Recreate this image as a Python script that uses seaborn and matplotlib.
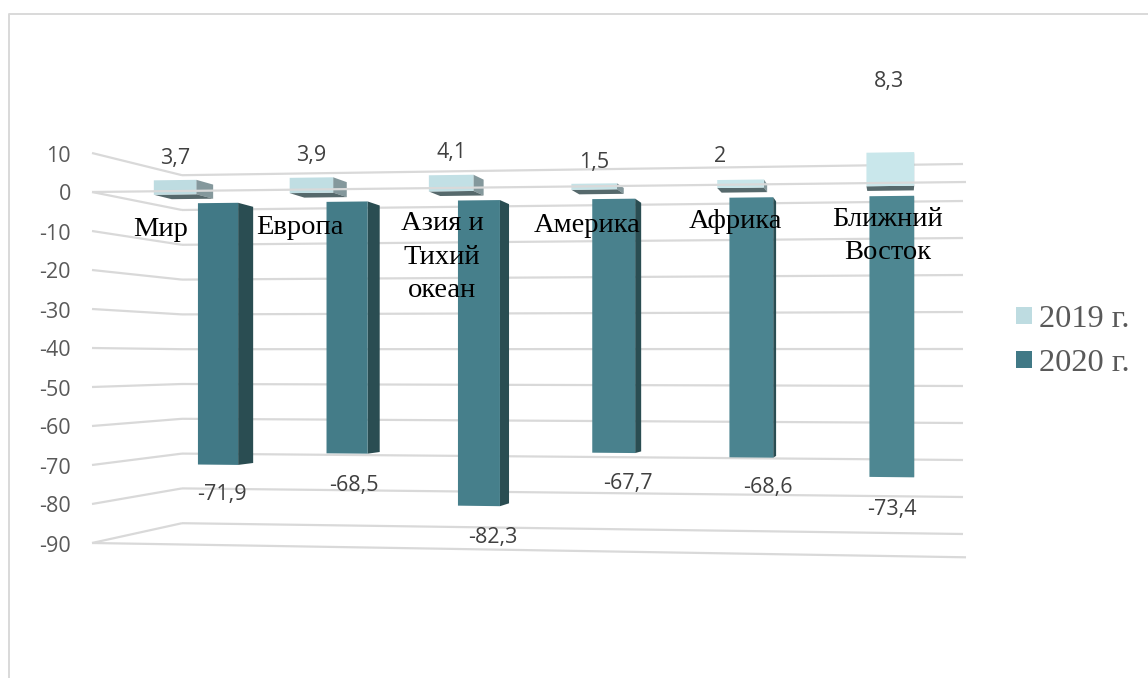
import matplotlib
matplotlib.use("Agg")
import matplotlib.pyplot as plt
import numpy as np
import pandas as pd
import seaborn as sns
from matplotlib.colors import to_rgb
from matplotlib.patches import Polygon
from matplotlib.transforms import Affine2D, Transform

# ---- data ----
categories = ["Мир", "Европа", "Азия и\nТихий\nокеан", "Америка", "Африка", "Ближний\nВосток"]
series_names = ["2019 г.", "2020 г."]
values_2019 = [3.7, 3.9, 4.1, 1.5, 2, 8.3]
values_2020 = [-71.9, -68.5, -82.3, -67.7, -68.6, -73.4]
axis_ticks = [10, 0, -10, -20, -30, -40, -50, -60, -70, -80, -90]

# ---- layout ----
W, H = 1148, 678
GRID = "#D9D9D9"
TICK = "#595959"
LABEL = "#404040"
SANS = "Open Sans"
SERIF = "Liberation Serif"
C19, C20 = "#BEDCE1", "#417986"
C19_FAR, C20_FAR = "#C9E7EB", "#4E8792"
C19_SIDE, C19_UNDER = "#84989C", "#56696C"
C20_SIDE = "#2A4D52"
VANISH = np.array([900.0, 380.0])
DEPTH_19, DEPTH_20 = 0.024, 0.0227
LAST = len(categories) - 1
FS = 15.5

offs_19 = [(0, 22), (0, 22), (0, 22), (0, 21), (-20, 23), (-1, 71)]
offs_20 = [(4, -30), (7, -32), (14, -32), (14, -31), (17, -30), (0, -32)]
cat_pos = [(161, 230), (300, 227), (442, 257), (587, 225), (735, 222), (888, 236)]


class Plane(Transform):
    """Maps (u, value) on to image pixels of a plane seen in perspective."""
    input_dims = output_dims = 2
    is_separable = False
    has_inverse = False

    def __init__(self, xc, span, zero, scale):
        super().__init__()
        self.xc, self.span, self.zero, self.scale = xc, span, zero, scale

    def _x(self, u):
        return self.xc[0] + self.xc[1] * u + self.xc[2] * u * u

    def transform_non_affine(self, values):
        values = np.asarray(values, dtype=float)
        u, v = values[:, 0], values[:, 1]
        x = self._x(u)
        left, right = self._x(0.0), self._x(self.span)
        t = (x - left) / (right - left)
        y0 = self.zero[0] + (self.zero[1] - self.zero[0]) * t
        k = self.scale[0] + (self.scale[1] - self.scale[0]) * t
        return np.column_stack([x, y0 - k * v])


pix = Affine2D().scale(1, -1).translate(0, H)
side_wall = Plane((92, 90, 0), 1, (192, 210), (3.9, 3.48))
back_wall = Plane((182, 781, 0), 1, (210, 201), (3.48, 3.7))
front_wall = Plane((92, 874, 0), 1, (192, 182), (3.9, 4.17))
row_19 = Plane((175, 134.7, 1.67), LAST, (194.5, 186), (3.9, 4.05))
row_20 = Plane((218, 127.6, 1.43), LAST, (203, 196), (3.64, 3.83))

sns.set_theme(style="white")
plt.rcParams["font.family"] = [SANS, "DejaVu Sans"]

fig = plt.figure(figsize=(W / 100, H / 100), dpi=100, facecolor="white")
ax = fig.add_axes([0, 0, 1, 1])

df = pd.DataFrame({
    "category": categories * 2,
    "year": [series_names[0]] * len(categories) + [series_names[1]] * len(categories),
    "value": values_2019 + values_2020,
})
sns.barplot(data=df, x="category", y="value", hue="year", order=categories,
            hue_order=series_names, palette=[C19, C20], saturation=1,
            dodge=False, width=0.315, linewidth=0, errorbar=None, ax=ax)
ax.set_axis_off()


def line(xs, ys, plane, z=1, color=GRID):
    ax.plot(xs, ys, color=color, lw=1.6, transform=plane + pix, zorder=z,
            scalex=False, scaley=False, solid_capstyle="butt")


# walls and floor
for tick in axis_ticks:
    line([0, 1], [tick, tick], side_wall)
    line([0, 1], [tick, tick], back_wall)
    ax.annotate(str(tick), xy=(0, tick), xycoords=side_wall + pix, xytext=(-21, -3),
                textcoords="offset pixels", ha="right", va="center",
                color=TICK, fontsize=FS, family=SANS, zorder=6)
line([0, 1], [0, 0], front_wall, z=7)
line([0, 1], [-90, -90], front_wall)


def extrude(points, depth):
    return points + depth * (VANISH - points)


def dress(container, plane, depth, near, far, side_color, under_color, z):
    n = len(container) - 1
    for i, bar in enumerate(container):
        bar.set_transform(plane + pix)
        bar.set_zorder(z + 0.2)
        tint = np.array(to_rgb(near)) + (np.array(to_rgb(far)) - np.array(to_rgb(near))) * i / n
        bar.set_facecolor(tuple(tint))
        x0, x1 = bar.get_x(), bar.get_x() + bar.get_width()
        y0, y1 = bar.get_y(), bar.get_y() + bar.get_height()
        low, high = min(y0, y1), max(y0, y1)
        bl, br, tr, tl = plane.transform([[x0, low], [x1, low], [x1, high], [x0, high]])
        side = np.array([br, tr, extrude(tr, depth), extrude(br, depth)])
        ax.add_patch(Polygon(side, closed=True, fc=side_color, ec="none",
                             transform=pix, zorder=z))
        if under_color:
            under = np.array([bl, br, extrude(br, depth), extrude(bl, depth)])
            ax.add_patch(Polygon(under, closed=True, fc=under_color, ec="none",
                                 transform=pix, zorder=z + 0.1))


dress(ax.containers[1], row_20, DEPTH_20, C20, C20_FAR, C20_SIDE, None, 2)
dress(ax.containers[0], row_19, DEPTH_19, C19, C19_FAR, C19_SIDE, C19_UNDER, 3)


def fmt(v):
    return f"{v:g}".replace(".", ",")


for i, (v, off) in enumerate(zip(values_2019, offs_19)):
    ax.annotate(fmt(v), xy=(i, v), xycoords=row_19 + pix, xytext=off,
                textcoords="offset pixels", ha="center", va="center",
                color=LABEL, fontsize=FS, family=SANS, zorder=8)
for i, (v, off) in enumerate(zip(values_2020, offs_20)):
    ax.annotate(fmt(v), xy=(i, v), xycoords=row_20 + pix, xytext=off,
                textcoords="offset pixels", ha="center", va="center",
                color=LABEL, fontsize=FS, family=SANS, zorder=8)

for name, pos in zip(categories, cat_pos):
    ax.text(pos[0], pos[1], name, transform=pix, ha="center", va="center",
            color="black", fontsize=20.5, family=SERIF, linespacing=1.45, zorder=9)

# outer frame of the chart area
ax.plot([9, 9, W], [H, 13.5, 13.5], color=GRID, lw=1.4, transform=pix, zorder=0,
        scalex=False, scaley=False)

sns.move_legend(ax, "upper left", bbox_to_anchor=(1016 / W, 1 - 305 / H),
                bbox_transform=fig.transFigure, frameon=False, title=None,
                prop={"family": SERIF, "size": 23.3}, labelcolor=TICK,
                handlelength=0.48, handleheight=0.46, handletextpad=0.22,
                labelspacing=0.47, borderpad=0, borderaxespad=0)

fig.savefig("out.png", dpi=100, facecolor="white")
